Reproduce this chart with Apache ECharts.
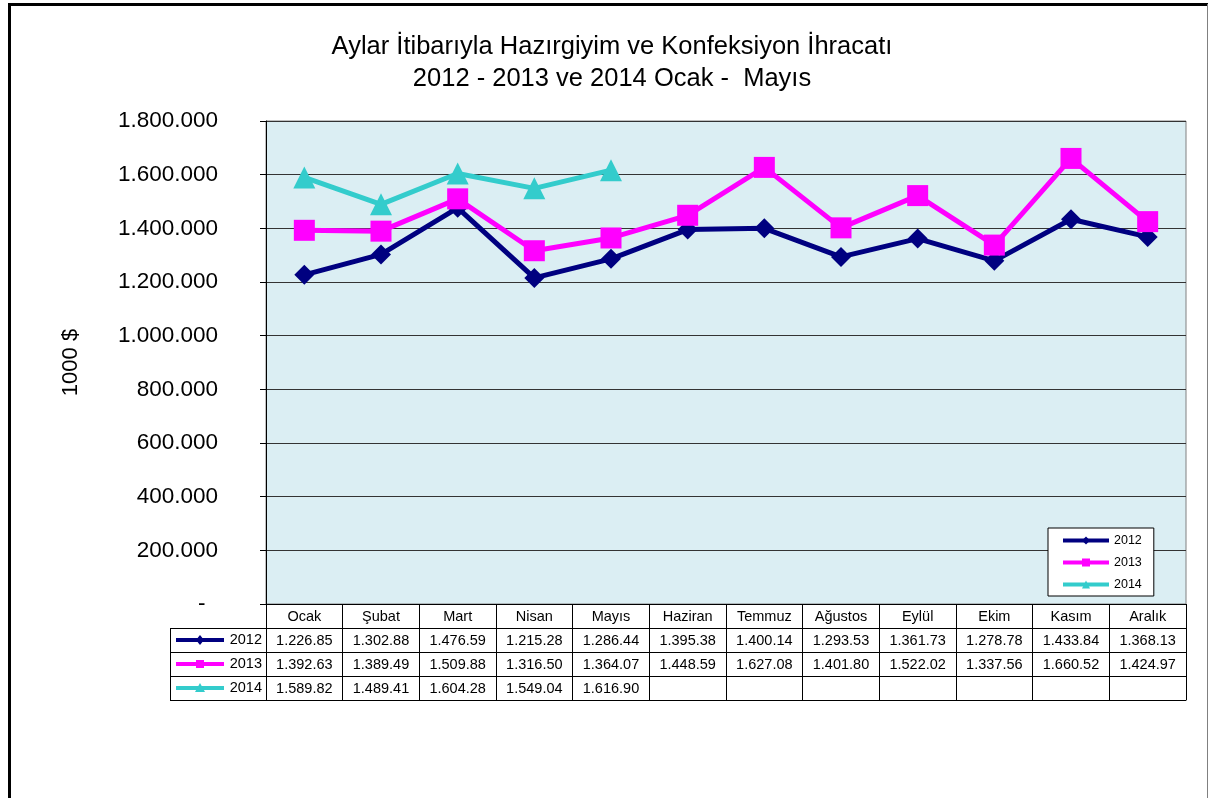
<!DOCTYPE html>
<html>
<head>
<meta charset="utf-8">
<script src="https://cdn.jsdelivr.net/npm/echarts@6/dist/echarts.min.js"></script>
<style>
  html, body { margin: 0; padding: 0; background: #fff; }
  #chart { width: 1209px; height: 798px; }
</style>
</head>
<body>
<div id="chart"></div>
<script>
// aylar
const months = ["Ocak", "Şubat", "Mart", "Nisan", "Mayıs", "Haziran", "Temmuz", "Ağustos", "Eylül", "Ekim", "Kasım", "Aralık"];
// 1000 $
const data2012 = [1226850, 1302880, 1476590, 1215280, 1286440, 1395380, 1400140, 1293530, 1361730, 1278780, 1433840, 1368130];
const data2013 = [1392630, 1389490, 1509880, 1316500, 1364070, 1448590, 1627080, 1401800, 1522020, 1337560, 1660520, 1424970];
const data2014 = [1589820, 1489410, 1604280, 1549040, 1616900, null, null, null, null, null, null, null];
const titleLines = ["Aylar İtibarıyla Hazırgiyim ve Konfeksiyon İhracatı", "2012 - 2013 ve 2014 Ocak -  Mayıs"];

const FONT = "'Liberation Sans', Arial, sans-serif";
const series = [
  { name: "2012", data: data2012, color: "#000080", symbol: "diamond", size: 20 },
  { name: "2013", data: data2013, color: "#ff00ff", symbol: "rect", size: 21 },
  { name: "2014", data: data2014, color: "#33cccc", symbol: "triangle", size: 22 },
];

// grid geometry
const gLeft = 266, gRight = 1186, gTop = 121, gBottom = 604;
const rowH = 24;
const keyLeft = 170;
const tableFont = 14.5;

function dots(n) {
  return String(n).replace(/\B(?=(\d{3})+(?!\d))/g, ".");
}
function cellText(v) {
  if (v == null) return "";
  const s = (v / 1000).toFixed(2).split(".");
  return dots(s[0]) + "." + s[1];
}

// tablo satirlari icin eksenler
const xAxes = [{
  type: "category",
  data: months,
  position: "bottom",
  axisLine: { lineStyle: { color: "#000", width: 1 } },
  axisTick: { show: true, interval: 0, length: rowH, lineStyle: { color: "#000" } },
  axisLabel: { interval: 0, margin: 5, fontSize: tableFont, color: "#000", fontFamily: FONT },
}];
series.forEach((s, i) => {
  xAxes.push({
    type: "category",
    data: months,
    position: "bottom",
    offset: rowH * (i + 1),
    axisLine: { lineStyle: { color: "#000", width: 1 } },
    axisTick: { show: true, interval: 0, length: rowH, lineStyle: { color: "#000" } },
    axisLabel: {
      interval: 0, margin: 5, fontSize: tableFont, color: "#000", fontFamily: FONT,
      formatter: (val, idx) => cellText(s.data[idx]),
    },
  });
});
xAxes.push({
  type: "category",
  data: months,
  position: "bottom",
  offset: rowH * 4,
  axisLine: { lineStyle: { color: "#000", width: 1 } },
  axisTick: { show: false },
  axisLabel: { show: false },
});

// cerceve + baslik + sol sutun (lejant anahtarlari)
const graphics = [
  { type: "line", shape: { x1: 9.5, y1: 3, x2: 9.5, y2: 798 }, style: { stroke: "#000", lineWidth: 3 } },
  { type: "line", shape: { x1: 8, y1: 4.5, x2: 1208, y2: 4.5 }, style: { stroke: "#000", lineWidth: 3 } },
  { type: "line", shape: { x1: 1207.5, y1: 4, x2: 1207.5, y2: 798 }, style: { stroke: "#808080", lineWidth: 1 } },
  { type: "line", shape: { x1: keyLeft + 0.5, y1: gBottom + rowH, x2: keyLeft + 0.5, y2: gBottom + rowH * 4 }, style: { stroke: "#000", lineWidth: 1 } },
];
titleLines.forEach((t, i) => {
  graphics.push({
    type: "text", x: 612, y: 47 + i * 32,
    style: { text: t, align: "center", verticalAlign: "middle", fontSize: 25.5, fontFamily: FONT, fill: "#000" },
  });
});
for (let r = 1; r <= 4; r++) {
  const y = gBottom + rowH * r + 0.5;
  graphics.push({ type: "line", shape: { x1: keyLeft, y1: y, x2: gLeft, y2: y }, style: { stroke: "#000", lineWidth: 1 } });
}
series.forEach((s, i) => {
  const cy = gBottom + rowH * (i + 1) + rowH / 2;
  graphics.push({ type: "line", shape: { x1: 176, y1: cy, x2: 224, y2: cy }, style: { stroke: s.color, lineWidth: 4 } });
  let mark;
  if (s.symbol === "diamond") mark = { type: "polygon", shape: { points: [[200, cy - 5], [204, cy], [200, cy + 5], [196, cy]] } };
  else if (s.symbol === "rect") mark = { type: "rect", shape: { x: 196, y: cy - 4, width: 8, height: 8 } };
  else mark = { type: "polygon", shape: { points: [[200, cy - 5], [205, cy + 4], [195, cy + 4]] } };
  mark.style = { fill: s.color };
  graphics.push(mark);
  graphics.push({
    type: "text", x: 262, y: cy,
    style: { text: s.name, align: "right", verticalAlign: "middle", fontSize: tableFont, fontFamily: FONT, fill: "#000" },
  });
});

const chart = echarts.init(document.getElementById("chart"));
chart.setOption({
  animation: false,
  backgroundColor: "#fff",
  grid: {
    left: gLeft, right: 1209 - gRight, top: gTop, bottom: 798 - gBottom,
    show: true, backgroundColor: "#dbeef3", borderColor: "#808080", borderWidth: 1,
  },
  legend: {
    orient: "vertical",
    left: 1048, top: 528,
    backgroundColor: "#fff",
    borderColor: "#000", borderWidth: 1,
    padding: [6, 12, 5, 13],
    itemWidth: 46, itemHeight: 10, itemGap: 9,
    lineStyle: { width: 4 },
    textStyle: { fontSize: 12.5, color: "#000", fontFamily: FONT },
    data: series.map(s => s.name),
  },
  xAxis: xAxes,
  yAxis: {
    type: "value",
    min: 0, max: 1800000, interval: 200000,
    name: "1000 $",
    nameLocation: "middle",
    nameGap: 184,
    nameRotate: 90,
    nameTextStyle: { fontSize: 22, color: "#000", fontFamily: FONT },
    axisLine: { show: true, lineStyle: { color: "#000", width: 1 } },
    axisTick: { show: true, length: 6, lineStyle: { color: "#000" } },
    axisLabel: {
      margin: 48, fontSize: 22.5, color: "#000", fontFamily: FONT,
      formatter: v => (v === 0 ? "-  " : dots(v)),
    },
    splitLine: { lineStyle: { color: "#333", width: 1 } },
  },
  series: series.map(s => ({
    name: s.name,
    type: "line",
    data: s.data,
    xAxisIndex: 0,
    symbol: s.symbol,
    symbolSize: s.size,
    connectNulls: false,
    itemStyle: { color: s.color },
    lineStyle: { color: s.color, width: 5 },
  })),
  graphic: graphics,
});
</script>
</body>
</html>
